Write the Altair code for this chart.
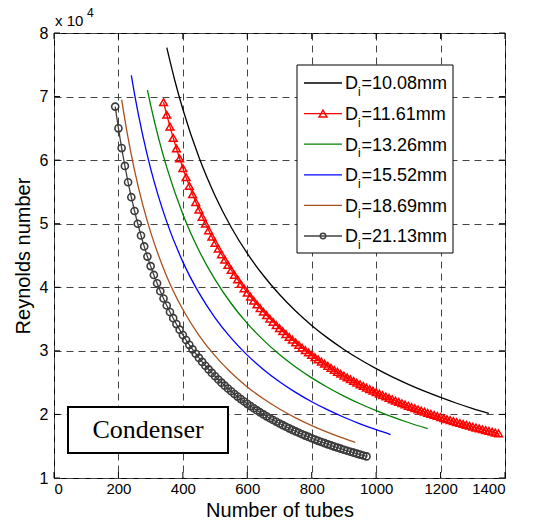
import altair as alt
import pandas as pd

# ---------------- data (Reynolds number in units of 1e4) ----------------
SERIES = ["Di=10.08mm", "Di=11.61mm", "Di=13.26mm", "Di=15.52mm", "Di=18.69mm", "Di=21.13mm"]
LEGEND_NUM = ["=10.08mm", "=11.61mm", "=13.26mm", "=15.52mm", "=18.69mm", "=21.13mm"]
COLORS = ["#000000", "#ff0000", "#008000", "#0000ff", "#a8501e", "#404040"]

N_BLACK = [350, 375, 400, 450, 500, 550, 600, 650, 700, 750, 800, 850, 900, 950, 1000,
           1050, 1100, 1150, 1200, 1250, 1300, 1350]
RE_BLACK = [7.771, 7.253, 6.800, 6.044, 5.440, 4.945, 4.533, 4.185, 3.886, 3.627, 3.400,
            3.200, 3.022, 2.863, 2.720, 2.590, 2.473, 2.365, 2.267, 2.176, 2.092, 2.015]

N_RED = list(range(340, 1390, 10))
RE_RED = [6.912, 6.714, 6.528, 6.351, 6.184, 6.026, 5.875, 5.732, 5.595, 5.465,
          5.341, 5.222, 5.109, 5.000, 4.896, 4.796, 4.700, 4.608, 4.519, 4.434,
          4.352, 4.273, 4.196, 4.123, 4.052, 3.983, 3.917, 3.852, 3.790, 3.730,
          3.672, 3.615, 3.561, 3.507, 3.456, 3.406, 3.357, 3.310, 3.264, 3.219,
          3.176, 3.133, 3.092, 3.052, 3.013, 2.975, 2.938, 2.901, 2.866, 2.831,
          2.798, 2.765, 2.733, 2.701, 2.670, 2.640, 2.611, 2.582, 2.554, 2.527,
          2.500, 2.474, 2.448, 2.423, 2.398, 2.374, 2.350, 2.327, 2.304, 2.282,
          2.260, 2.238, 2.217, 2.196, 2.176, 2.156, 2.136, 2.117, 2.098, 2.080,
          2.061, 2.043, 2.026, 2.009, 1.992, 1.975, 1.958, 1.942, 1.926, 1.911,
          1.895, 1.880, 1.865, 1.850, 1.836, 1.822, 1.808, 1.794, 1.780, 1.767,
          1.754, 1.741, 1.728, 1.715, 1.703]

N_GREEN = [290, 300, 325, 350, 400, 450, 500, 550, 600, 650, 700, 750, 800, 850, 900,
           950, 1000, 1050, 1100, 1160]
RE_GREEN = [7.103, 6.867, 6.338, 5.886, 5.150, 4.578, 4.120, 3.745, 3.433, 3.169, 2.943,
            2.747, 2.575, 2.424, 2.289, 2.168, 2.060, 1.962, 1.873, 1.776]

N_BLUE = [240, 250, 275, 300, 350, 400, 450, 500, 550, 600, 650, 700, 750, 800, 850,
          900, 950, 1000, 1045]
RE_BLUE = [7.333, 7.040, 6.400, 5.867, 5.029, 4.400, 3.911, 3.520, 3.200, 2.933, 2.708,
           2.514, 2.347, 2.200, 2.071, 1.956, 1.853, 1.760, 1.684]

N_BROWN = [210, 225, 250, 275, 300, 350, 400, 450, 500, 550, 600, 650, 700, 750, 800,
           850, 900, 935]
RE_BROWN = [6.952, 6.489, 5.840, 5.309, 4.867, 4.171, 3.650, 3.244, 2.920, 2.655, 2.433,
            2.246, 2.086, 1.947, 1.825, 1.718, 1.622, 1.561]

N_GRAY = list(range(190, 980, 10))
RE_GRAY = [6.842, 6.500, 6.190, 5.909, 5.652, 5.417, 5.200, 5.000, 4.815, 4.643,
           4.483, 4.333, 4.194, 4.063, 3.939, 3.824, 3.714, 3.611, 3.514, 3.421,
           3.333, 3.250, 3.171, 3.095, 3.023, 2.955, 2.889, 2.826, 2.766, 2.708,
           2.653, 2.600, 2.549, 2.500, 2.453, 2.407, 2.364, 2.321, 2.281, 2.241,
           2.203, 2.167, 2.131, 2.097, 2.063, 2.031, 2.000, 1.970, 1.940, 1.912,
           1.884, 1.857, 1.831, 1.806, 1.781, 1.757, 1.733, 1.711, 1.688, 1.667,
           1.646, 1.625, 1.605, 1.585, 1.566, 1.548, 1.529, 1.512, 1.494, 1.477,
           1.461, 1.444, 1.429, 1.413, 1.398, 1.383, 1.368, 1.354, 1.340]

X_TICKS = [0, 200, 400, 600, 800, 1000, 1200, 1400]
Y_TICKS = [1, 2, 3, 4, 5, 6, 7, 8]

# ---------------- build tables ----------------
all_n = [N_BLACK, N_RED, N_GREEN, N_BLUE, N_BROWN, N_GRAY]
all_re = [RE_BLACK, RE_RED, RE_GREEN, RE_BLUE, RE_BROWN, RE_GRAY]
frames = []
for i, (ns, rs) in enumerate(zip(all_n, all_re)):
    frames.append(pd.DataFrame({"N": ns, "Re": rs, "series": SERIES[i], "order": i}))
df = pd.concat(frames, ignore_index=True)
df_red = pd.DataFrame({"N": N_RED, "Re": RE_RED})
df_gray = pd.DataFrame({"N": N_GRAY, "Re": RE_GRAY})
df_xt = pd.DataFrame({"v": X_TICKS})
df_yt = pd.DataFrame({"v": Y_TICKS})
one = pd.DataFrame({"k": [0]})

W, H = 451, 445
FONT = "Liberation Sans"

xs = alt.Scale(domain=[0, 1400], nice=False, zero=False)
ys = alt.Scale(domain=[1, 8], nice=False, zero=False)

xaxis = alt.Axis(values=X_TICKS, title="Number of tubes", grid=True, ticks=False,
                 domain=False, labelPadding=3, titlePadding=4, format="d",
                 labelFontSize=15)
yaxis = alt.Axis(values=Y_TICKS, title="Reynolds number", grid=True, ticks=False,
                 domain=False, labelPadding=6, titlePadding=6, format="d")

lines = alt.Chart(df).mark_line(strokeWidth=1.3, interpolate="monotone").encode(
    x=alt.X("N:Q", scale=xs, axis=xaxis),
    y=alt.Y("Re:Q", scale=ys, axis=yaxis),
    color=alt.Color("series:N", scale=alt.Scale(domain=SERIES, range=COLORS), legend=None),
    order="order:Q",
)

red_pts = alt.Chart(df_red).mark_point(shape="triangle-up", filled=False, color="#ff0000",
                                       size=60, strokeWidth=1.5, opacity=1).encode(
    x=alt.X("N:Q", scale=xs), y=alt.Y("Re:Q", scale=ys))

gray_pts = alt.Chart(df_gray).mark_point(shape="circle", filled=False, color="#3a3a3a",
                                         size=50, strokeWidth=1.6, opacity=1).encode(
    x=alt.X("N:Q", scale=xs), y=alt.Y("Re:Q", scale=ys))

TL = 6
tick_layers = [
    alt.Chart(df_xt).mark_rule(color="black", strokeWidth=1).encode(
        x=alt.X("v:Q", scale=xs), y=alt.value(H), y2=alt.value(H - TL)),
    alt.Chart(df_xt).mark_rule(color="black", strokeWidth=1).encode(
        x=alt.X("v:Q", scale=xs), y=alt.value(0), y2=alt.value(TL)),
    alt.Chart(df_yt).mark_rule(color="black", strokeWidth=1).encode(
        y=alt.Y("v:Q", scale=ys), x=alt.value(0), x2=alt.value(TL)),
    alt.Chart(df_yt).mark_rule(color="black", strokeWidth=1).encode(
        y=alt.Y("v:Q", scale=ys), x=alt.value(W), x2=alt.value(W - TL)),
]

# ---------------- legend (drawn by hand to allow the subscript) ----------------
LX0, LX1, LY0, LY1 = 243, 399, 32, 220
legend_layers = [
    alt.Chart(one).mark_rect(fill="white", stroke="black", strokeWidth=1).encode(
        x=alt.value(LX0), x2=alt.value(LX1), y=alt.value(LY0), y2=alt.value(LY1))
]
for i in range(6):
    ry = 50 + i * 30.6
    c = COLORS[i]
    legend_layers.append(alt.Chart(one).mark_rule(color=c, strokeWidth=1.3).encode(
        x=alt.value(250), x2=alt.value(288), y=alt.value(ry)))
    legend_layers.append(alt.Chart(one).mark_text(
        text="D", font=FONT, fontSize=18, align="left", baseline="alphabetic", color="black").encode(
        x=alt.value(291), y=alt.value(ry + 6.4)))
    legend_layers.append(alt.Chart(one).mark_text(
        text="i", font=FONT, fontSize=12, align="left", baseline="alphabetic", color="black").encode(
        x=alt.value(304), y=alt.value(ry + 13)))
    legend_layers.append(alt.Chart(one).mark_text(
        text=LEGEND_NUM[i], font=FONT, fontSize=18, align="left", baseline="alphabetic",
        color="black").encode(x=alt.value(307.5), y=alt.value(ry + 6.4)))
    if i == 1:
        legend_layers.append(alt.Chart(one).mark_point(
            shape="triangle-up", filled=False, color=c, size=60, strokeWidth=1.5, opacity=1).encode(
            x=alt.value(269), y=alt.value(ry)))
    if i == 5:
        legend_layers.append(alt.Chart(one).mark_point(
            shape="circle", filled=False, color=c, size=30, strokeWidth=1.5, opacity=1).encode(
            x=alt.value(269), y=alt.value(ry)))

# ---------------- annotations ----------------
annot = [
    alt.Chart(one).mark_rect(fill="white", stroke="black", strokeWidth=2).encode(
        x=alt.value(14), x2=alt.value(174), y=alt.value(374), y2=alt.value(420)),
    alt.Chart(one).mark_text(text="Condenser", font="Liberation Serif", fontSize=26,
                             align="center", baseline="middle", color="black").encode(
        x=alt.value(94), y=alt.value(397)),
    alt.Chart(one).mark_text(text="x 10", font=FONT, fontSize=15, align="left",
                             baseline="alphabetic", color="black").encode(
        x=alt.value(1), y=alt.value(-7)),
    alt.Chart(one).mark_text(text="4", font=FONT, fontSize=12, align="left",
                             baseline="alphabetic", color="black").encode(
        x=alt.value(33), y=alt.value(-16)),
]

chart = alt.layer(lines, red_pts, gray_pts, *tick_layers, *legend_layers, *annot).properties(
    width=W, height=H,
    autosize=alt.AutoSizeParams(type="none"),
    padding={"left": 54, "top": 33, "right": 28, "bottom": 48},
    background="white",
).configure_view(
    stroke="black", strokeWidth=1,
).configure_axis(
    labelFont=FONT, labelFontSize=16, labelColor="black",
    titleFont=FONT, titleFontSize=20, titleFontWeight="normal", titleColor="black",
    gridDash=[7, 5], gridColor="#444444", gridWidth=1, gridOpacity=1,
)

chart.save("out.html", embed_options={"renderer": "svg", "actions": False})
